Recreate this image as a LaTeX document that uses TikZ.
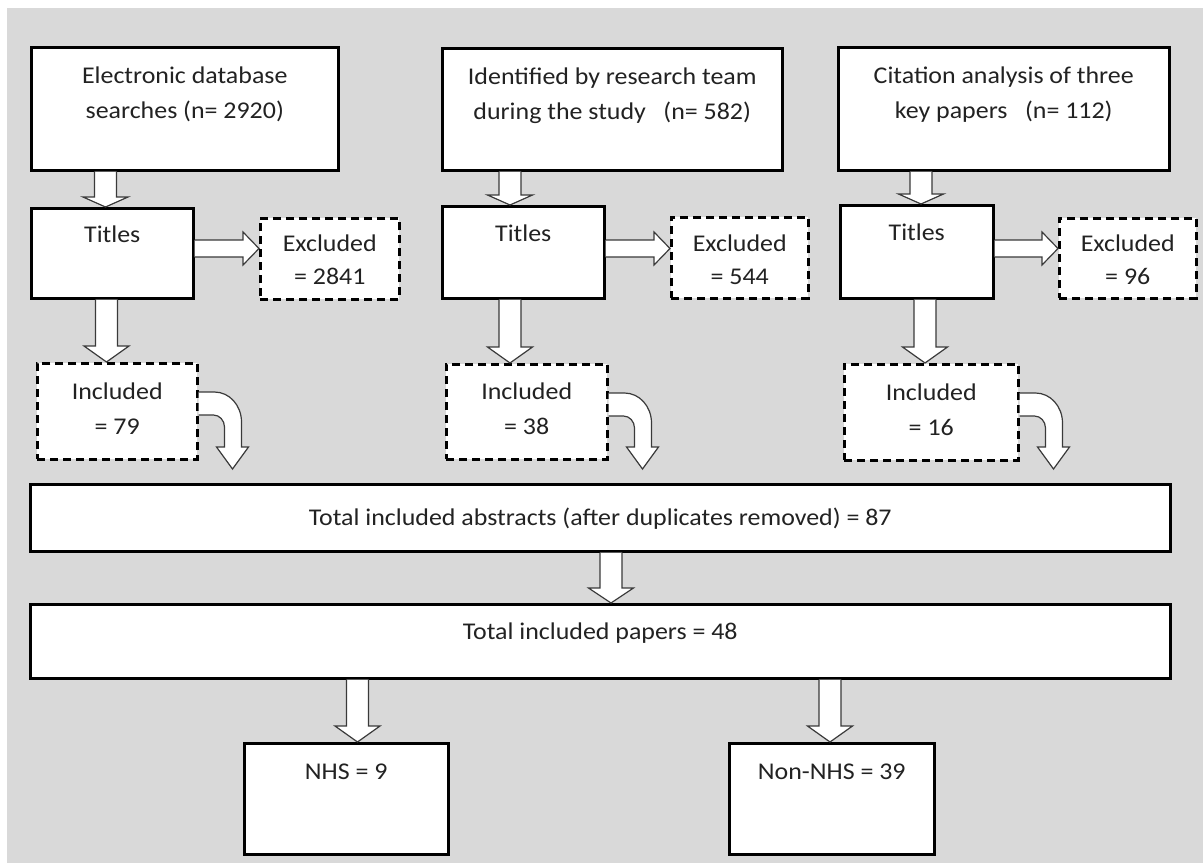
\documentclass[tikz,border=0pt]{standalone}
\usepackage{fontspec}
\setmainfont{Carlito}[FakeStretch=1.08]
\usetikzlibrary{calc}

\definecolor{panel}{HTML}{D9D9D9}
\definecolor{ink}{HTML}{222222}
\definecolor{arrowline}{HTML}{3A3A3A}

\tikzset{
  stage/.style={draw=black, line width=2.5pt, fill=white, inner sep=0pt,
                anchor=north west, text=ink},
  outcome/.style={stage, dash pattern=on 8pt off 5pt},
  blockarrow/.style={draw=arrowline, fill=white, line width=1.2pt, line join=miter},
}

% box contents: width, height, first baseline, line spacing, text
\newcommand\boxlines[5]{%
  \parbox[t][#2pt][t]{#1pt}{\centering\fontsize{24}{#4}\selectfont
    \rule{0pt}{#3pt}#5}}

% hollow downward block arrow: from, to, axis x, head length
\newcommand\downblock[4]{%
  \path[blockarrow] let \p1=(#1.south), \p2=(#2.north) in
    ({#3-11},\y1) -- ({#3-11},{\y2+#4}) -- ({#3-22.5},{\y2+#4}) -- (#3,\y2)
    -- ({#3+22.5},{\y2+#4}) -- ({#3+11},{\y2+#4}) -- ({#3+11},\y1);}

% hollow rightward block arrow: from, to, axis y
\newcommand\rightblock[3]{%
  \path[blockarrow] let \p1=(#1.east), \p2=(#2.west) in
    (\x1,{#3-8.5}) -- ({\x2-16},{#3-8.5}) -- ({\x2-16},{#3-16.5}) -- (\x2,#3)
    -- ({\x2-16},{#3+16.5}) -- ({\x2-16},{#3+8.5}) -- (\x1,{#3+8.5});}

% hollow bent arrow leaving a box's right side and turning down onto a target
\newcommand\bentblock[2]{%
  \path[blockarrow] let \p1=(#1.north east), \p2=(#2.north) in
    (\x1,{\y1-30}) -- ({\x1+16},{\y1-30})
    .. controls ({\x1+31},{\y1-30}) and ({\x1+43},{\y1-43.4}) .. ({\x1+43},{\y1-60})
    -- ({\x1+43},{\y2+36}) -- ({\x1+50},{\y2+36}) -- ({\x1+34},{\y2+14})
    -- ({\x1+18},{\y2+36}) -- ({\x1+26},{\y2+36}) -- ({\x1+26},{\y1-65})
    .. controls ({\x1+26},{\y1-58.4}) and ({\x1+21},{\y1-53}) .. ({\x1+15},{\y1-53})
    -- (\x1,{\y1-53});}

\begin{document}
\begin{tikzpicture}[x=1pt, y=-1pt]
  \useasboundingbox (0,0) rectangle (1203,863);
  \fill[panel] (7,8) rectangle (1203,863);

  % sources
  \node[stage] (src1) at (30,46)
    {\boxlines{307}{123}{36}{35}{Electronic database\\searches (n= 2920)}};
  \node[stage] (src2) at (441,47)
    {\boxlines{340}{122}{36}{35}{Identified by research team\\during the study\ \ \ (n= 582)}};
  \node[stage] (src3) at (837,46)
    {\boxlines{331}{123}{36}{35}{Citation analysis of three\\key papers\ \ \ (n= 112)}};

  % title screening
  \node[stage] (tit1) at (30,207)  {\boxlines{162}{90}{34}{35}{Titles}};
  \node[stage] (tit2) at (441,205) {\boxlines{162}{92}{35}{35}{Titles}};
  \node[stage] (tit3) at (839,204) {\boxlines{153}{93}{35}{35}{Titles}};

  % excluded
  \node[outcome] (exc1) at (259,217)  {\boxlines{139}{81}{33}{33}{Excluded\\= 2841}};
  \node[outcome] (exc2) at (670,216)  {\boxlines{137}{81}{34}{33}{Excluded\\= 544}};
  \node[outcome] (exc3) at (1058,217) {\boxlines{137}{80}{33}{33}{Excluded\\= 96}};

  % included
  \node[outcome] (inc1) at (36,362)  {\boxlines{160}{96}{36}{35}{Included\\= 79}};
  \node[outcome] (inc2) at (445,363) {\boxlines{161}{95}{35}{35}{Included\\= 38}};
  \node[outcome] (inc3) at (843,363) {\boxlines{174}{96}{36}{35}{Included\\= 16}};

  % totals
  \node[stage] (abst) at (29,483)
    {\boxlines{1140}{67}{41}{35}{Total included abstracts (after duplicates removed) = 87}};
  \node[stage] (papr) at (29,603)
    {\boxlines{1140}{74}{35}{35}{Total included papers = 48}};

  % split
  \node[stage] (nhs) at (243,742) {\boxlines{204}{111}{36}{35}{NHS = 9}};
  \node[stage] (non) at (728,742) {\boxlines{205}{111}{36}{35}{Non-NHS = 39}};

  % connectors
  \downblock{src1}{tit1}{105.5}{10}
  \downblock{src2}{tit2}{510}{10}
  \downblock{src3}{tit3}{921}{10}

  \rightblock{tit1}{exc1}{248.5}
  \rightblock{tit2}{exc2}{248.5}
  \rightblock{tit3}{exc3}{248.5}

  \downblock{tit1}{inc1}{106.5}{16}
  \downblock{tit2}{inc2}{510}{16}
  \downblock{tit3}{inc3}{925}{16}

  \bentblock{inc1}{abst}
  \bentblock{inc2}{abst}
  \bentblock{inc3}{abst}

  \downblock{abst}{papr}{611}{15}
  \downblock{papr}{nhs}{357.5}{16}
  \downblock{papr}{non}{830}{16}
\end{tikzpicture}
\end{document}
